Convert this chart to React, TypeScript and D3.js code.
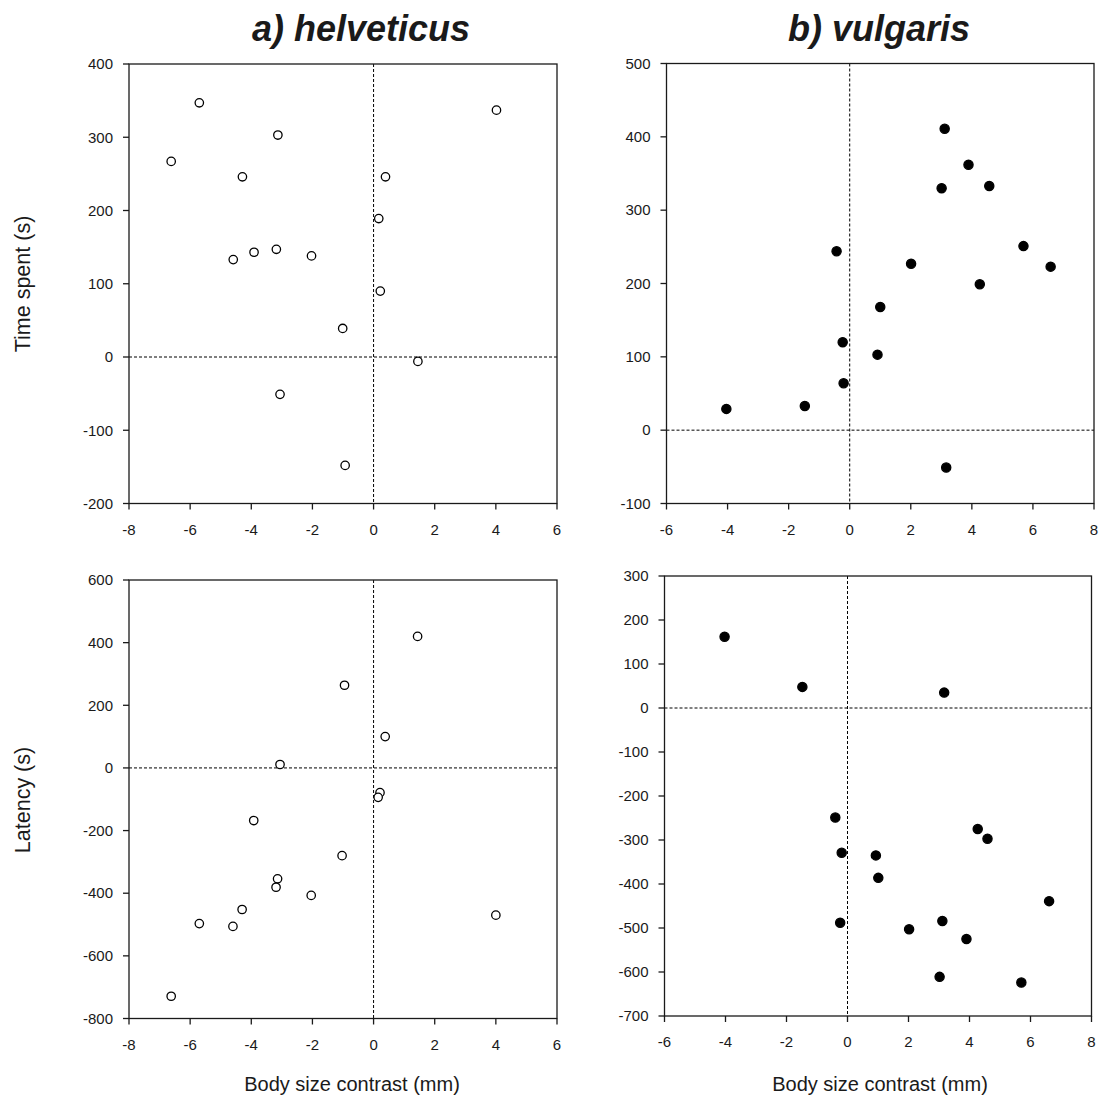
import React from "react";
import * as d3 from "d3";

// helveticus – time spent
const helvTimeX = [-6.62, -5.7, -3.13, -4.29, 0.39, 4.02, 0.17, -4.59, -3.91, -3.18, -2.03, 0.22, -1.01, 1.45, -3.06, -0.93];
const helvTimeY = [267, 347, 303, 246, 246, 337, 189, 133, 143, 147, 138, 90, 39, -6, -51, -148];
// helveticus – latency
const helvLatX = [-6.62, -5.7, -4.6, -4.3, -3.92, -3.14, -3.19, -3.06, -2.04, -1.03, -0.95, 0.38, 0.21, 0.15, 1.44, 4.0];
const helvLatY = [-729, -497, -506, -452, -168, -354, -381, 11, -407, -280, 264, 100, -79, -94, 420, -470];
// vulgaris – time spent
const vulgTimeX = [-4.04, -1.47, -0.43, -0.23, -0.2, 0.91, 1.0, 2.01, 3.01, 3.11, 3.16, 3.89, 4.26, 4.57, 5.69, 6.58];
const vulgTimeY = [29, 33, 244, 120, 64, 103, 168, 227, 330, 411, -51, 362, 199, 333, 251, 223];
// vulgaris – latency
const vulgLatX = [-4.03, -1.48, 3.17, -0.4, -0.19, -0.24, 0.93, 1.01, 2.02, 3.11, 3.02, 3.9, 4.27, 4.59, 5.7, 6.61];
const vulgLatY = [162, 48, 35, -249, -329, -488, -335, -386, -503, -484, -611, -525, -275, -297, -624, -439];

const helvXTicks = [-8, -6, -4, -2, 0, 2, 4, 6];
const vulgXTicks = [-6, -4, -2, 0, 2, 4, 6, 8];
const helvTimeTicks = [-200, -100, 0, 100, 200, 300, 400];
const vulgTimeTicks = [-100, 0, 100, 200, 300, 400, 500];
const helvLatTicks = [-800, -600, -400, -200, 0, 200, 400, 600];
const vulgLatTicks = [-700, -600, -500, -400, -300, -200, -100, 0, 100, 200, 300];

const titles = ["a) helveticus", "b) vulgaris"];
const yLabels = ["Time spent (s)", "Latency (s)"];
const xLabel = "Body size contrast (mm)";

const FONT = "'Liberation Sans', Arial, Helvetica, sans-serif";
const INK = "#1a1a1a";

type PanelProps = {
  left: number; right: number; top: number; bottom: number;
  xTicks: number[]; yTicks: number[];
  xs: number[]; ys: number[]; filled: boolean;
};

function Panel({ left, right, top, bottom, xTicks, yTicks, xs, ys, filled }: PanelProps) {
  const x = d3.scaleLinear().domain([xTicks[0], xTicks[xTicks.length - 1]]).range([left, right]);
  const y = d3.scaleLinear().domain([yTicks[0], yTicks[yTicks.length - 1]]).range([bottom, top]);
  return (
    <g>
      <line x1={x(0)} x2={x(0)} y1={top} y2={bottom} stroke="#000" strokeWidth={1} strokeDasharray="3,2" />
      <line x1={left} x2={right} y1={y(0)} y2={y(0)} stroke="#000" strokeWidth={1} strokeDasharray="3,2" />
      <rect x={left} y={top} width={right - left} height={bottom - top} fill="none" stroke={INK} strokeWidth={1.3} />
      {xTicks.map((t) => (
        <g key={"x" + t}>
          <line x1={x(t)} x2={x(t)} y1={bottom} y2={bottom + 6} stroke={INK} strokeWidth={1.3} />
          <text x={x(t)} y={bottom + 31} textAnchor="middle" fontSize={15} fontFamily={FONT} fill={INK}>{String(t)}</text>
        </g>
      ))}
      {yTicks.map((t) => (
        <g key={"y" + t}>
          <line x1={left - 6} x2={left} y1={y(t)} y2={y(t)} stroke={INK} strokeWidth={1.3} />
          <text x={left - 16} y={y(t)} dy="0.35em" textAnchor="end" fontSize={15} fontFamily={FONT} fill={INK}>{String(t)}</text>
        </g>
      ))}
      {xs.map((v, i) => (
        <circle key={i} cx={x(v)} cy={y(ys[i])} r={filled ? 4.6 : 4.2}
          fill={filled ? "#000" : "#fff"} stroke="#000" strokeWidth={1.3} />
      ))}
    </g>
  );
}

export default function App() {
  return (
    <svg width={1101} height={1102} style={{ position: "absolute", left: 0, top: 0, background: "#fff" }}>
      <rect x={0} y={0} width={1101} height={1102} fill="#fff" />
      <text x={361} y={41} textAnchor="middle" fontSize={36} fontWeight="bold" fontStyle="italic" fontFamily={FONT} fill={INK}>{titles[0]}</text>
      <text x={879} y={41} textAnchor="middle" fontSize={36} fontWeight="bold" fontStyle="italic" fontFamily={FONT} fill={INK}>{titles[1]}</text>

      <Panel left={129} right={557} top={64} bottom={503.5} xTicks={helvXTicks} yTicks={helvTimeTicks} xs={helvTimeX} ys={helvTimeY} filled={false} />
      <Panel left={666.5} right={1094} top={63.5} bottom={503.5} xTicks={vulgXTicks} yTicks={vulgTimeTicks} xs={vulgTimeX} ys={vulgTimeY} filled={true} />
      <Panel left={129} right={557} top={580} bottom={1018.5} xTicks={helvXTicks} yTicks={helvLatTicks} xs={helvLatX} ys={helvLatY} filled={false} />
      <Panel left={664.5} right={1091.5} top={576} bottom={1016} xTicks={vulgXTicks} yTicks={vulgLatTicks} xs={vulgLatX} ys={vulgLatY} filled={true} />

      <text transform="translate(30,284) rotate(-90)" textAnchor="middle" fontSize={21.5} fontFamily={FONT} fill={INK}>{yLabels[0]}</text>
      <text transform="translate(30,800) rotate(-90)" textAnchor="middle" fontSize={21.5} fontFamily={FONT} fill={INK}>{yLabels[1]}</text>
      <text x={352} y={1091} textAnchor="middle" fontSize={20} fontFamily={FONT} fill={INK}>{xLabel}</text>
      <text x={880} y={1091} textAnchor="middle" fontSize={20} fontFamily={FONT} fill={INK}>{xLabel}</text>
    </svg>
  );
}
